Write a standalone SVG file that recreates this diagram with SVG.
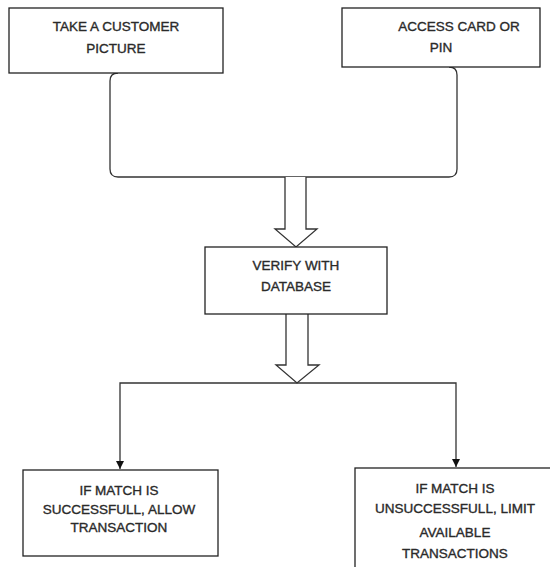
<svg xmlns="http://www.w3.org/2000/svg" width="550" height="567" viewBox="0 0 550 567">
<style>
.box{fill:#fff;stroke:#222;stroke-width:1.3}
.t{font-family:"Liberation Sans",Arial,sans-serif;font-size:13.5px;fill:#2a2a2a;stroke:#2a2a2a;stroke-width:0.35;text-anchor:middle}
.ln{fill:none;stroke:#333;stroke-width:1.3}
.blk{fill:#fff;stroke:#333;stroke-width:1.3;stroke-linejoin:miter}
</style>
<defs>
<marker id="ah" viewBox="0 0 10 10" refX="10" refY="5" markerWidth="8" markerHeight="8" markerUnits="userSpaceOnUse" orient="auto">
<path d="M0,0 L10,5 L0,10 z" fill="#111"/>
</marker>
</defs>
<rect width="550" height="567" fill="#fff"/>
<g id="connectors">
<path class="ln" d="M118,73 Q110,73 110,81 L110,169 Q110,177 118,177 L449,177 Q457,177 457,169 L457,75 Q457,67 449,67"/>
<path class="blk" d="M285,177 L285,229 L275,229 L296,247 L317,229 L306,229 L306,177"/>
<path class="blk" d="M286,314 L286,365 L276,365 L297,383 L319,365 L308,365 L308,314"/>
<path class="ln" d="M297,383 L120,383 L120,469" marker-end="url(#ah)"/>
<path class="ln" d="M297,383 L456,383 L456,467" marker-end="url(#ah)"/>
</g>
<g id="n1">
<rect class="box" x="9" y="8" width="214" height="65"/>
<text class="t" x="116" y="31">TAKE A CUSTOMER</text>
<text class="t" x="116" y="53">PICTURE</text>
</g>
<g id="n2">
<rect class="box" x="342" y="8" width="198" height="59"/>
<text class="t" x="459" y="31">ACCESS CARD OR</text>
<text class="t" x="441" y="52">PIN</text>
</g>
<g id="n3">
<rect class="box" x="205" y="247" width="182" height="67"/>
<text class="t" x="296" y="270">VERIFY WITH</text>
<text class="t" x="296" y="291">DATABASE</text>
</g>
<g id="n4">
<rect class="box" x="23" y="470" width="195" height="86"/>
<text class="t" x="119" y="495">IF MATCH IS</text>
<text class="t" x="119" y="514">SUCCESSFULL, ALLOW</text>
<text class="t" x="119" y="532">TRANSACTION</text>
</g>
<g id="n5">
<rect class="box" x="355" y="468" width="200" height="110"/>
<text class="t" x="455" y="493">IF MATCH IS</text>
<text class="t" x="455" y="513">UNSUCCESSFULL, LIMIT</text>
<text class="t" x="455" y="537">AVAILABLE</text>
<text class="t" x="455" y="558">TRANSACTIONS</text>
</g>
</svg>
